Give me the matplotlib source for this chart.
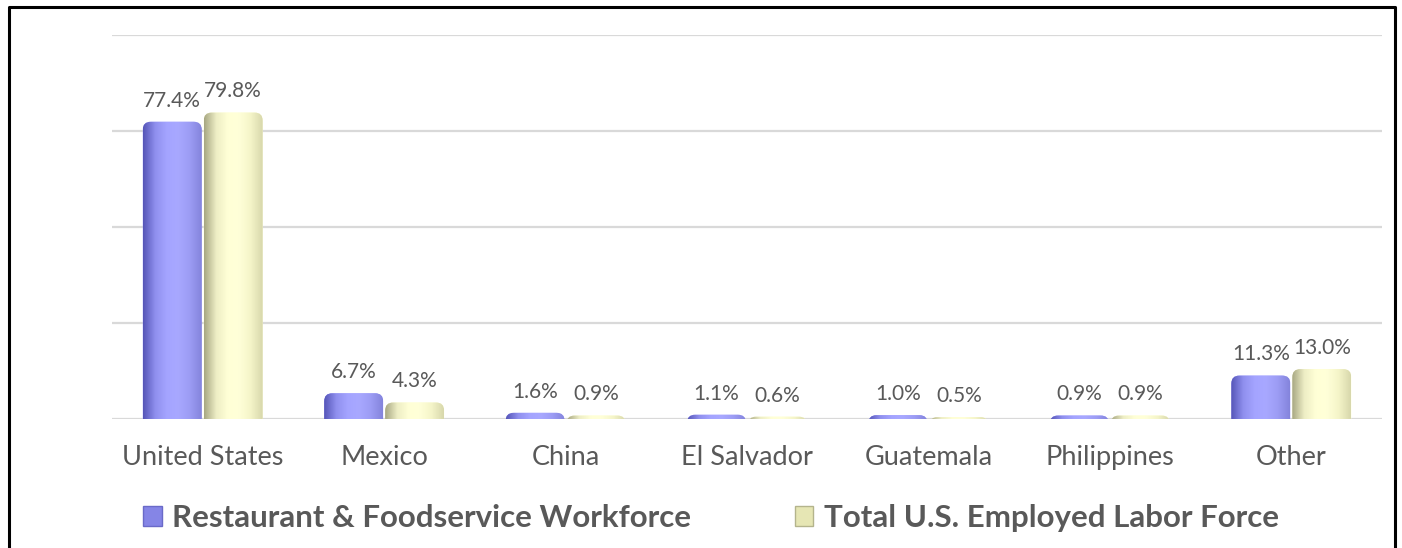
import matplotlib
matplotlib.use("Agg")
import matplotlib.pyplot as plt
import numpy as np
from matplotlib.patches import FancyBboxPatch, Patch
from matplotlib.lines import Line2D
from matplotlib.colors import LinearSegmentedColormap

# data
countries = ["United States", "Mexico", "China", "El Salvador", "Guatemala", "Philippines", "Other"]
restaurant = [77.4, 6.7, 1.6, 1.1, 1.0, 0.9, 11.3]
labor_force = [79.8, 4.3, 0.9, 0.6, 0.5, 0.9, 13.0]
series_names = ["Restaurant & Foodservice Workforce", "Total U.S. Employed Labor Force"]

plt.rcParams["font.family"] = ["Lato", "DejaVu Sans"]
text_color = "#595959"
grid_color = "#d9d9d9"

W, H = 1402, 548
fig = plt.figure(figsize=(W / 100, H / 100), dpi=100)
ax = fig.add_axes([112 / W, 129 / H, 1270 / W, 384 / H])

x = np.arange(len(countries))
bar_w = 0.325
offset = 0.168
ax.set_xlim(-0.5, len(countries) - 0.5)
ax.set_ylim(0, 100)

# gradient shading of the two series (left edge dark, highlight, right slightly dark)
grads = {
    0: ["#5656b8", "#8f8fee", "#a4a4ff", "#a8a8ff", "#9c9cf4", "#8484dc"],
    1: ["#a8a884", "#ededc4", "#ffffd6", "#ffffd8", "#f4f4c8", "#d8d8ac"],
}
cmaps = {k: LinearSegmentedColormap.from_list("g%d" % k, v) for k, v in grads.items()}

px_x = 1270 / len(countries)
px_y = 384 / 100
radius = 8 / px_x
aspect = px_x / px_y
below = -6

for k, (vals, sign) in enumerate([(restaurant, -1), (labor_force, 1)]):
    for xi, v in zip(x, vals):
        left = xi + sign * offset - bar_w / 2
        patch = FancyBboxPatch((left, below), bar_w, v - below,
                               boxstyle="round,pad=0,rounding_size=%f" % radius,
                               mutation_aspect=aspect, linewidth=0,
                               facecolor=grads[k][3], zorder=3)
        ax.add_patch(patch)
        grad = np.linspace(0, 1, 64).reshape(1, -1)
        im = ax.imshow(grad, cmap=cmaps[k], aspect="auto", interpolation="bilinear",
                       extent=(left, left + bar_w, below, v), zorder=3.5)
        im.set_clip_path(patch)
        ax.annotate("%.1f%%" % v, (xi + sign * offset, v), xytext=(0, 8),
                    textcoords="offset points", ha="center", va="bottom",
                    fontsize=15, color=text_color)

ax.set_xlim(-0.5, len(countries) - 0.5)
ax.set_ylim(0, 100)
ax.set_yticks([0, 25, 50, 75, 100])
ax.set_yticklabels([])
ax.grid(axis="y", color=grid_color, linewidth=1.6, zorder=0)
ax.set_axisbelow(True)
ax.set_xticks(x)
ax.set_xticklabels(countries, fontsize=19.5, color=text_color)
ax.tick_params(axis="both", length=0, pad=19)
for s in ax.spines.values():
    s.set_visible(False)

# legend
handles = [Patch(facecolor="#8585e6", edgecolor="#6a6ac8", linewidth=1),
           Patch(facecolor="#e6e6b4", edgecolor="#b4b48c", linewidth=1)]
fig.legend(handles, series_names, loc="center", bbox_to_anchor=(711 / W, 1 - 518 / H),
           ncol=2, frameon=False, handlelength=0.6, handleheight=0.6, handletextpad=0.35,
           columnspacing=3.3, prop={"size": 22.5, "weight": "bold"}, labelcolor=text_color)

# black frame round the chart
fig.add_artist(Line2D([9 / W, 9 / W, 1395 / W, 1395 / W], [0, 1 - 7 / H, 1 - 7 / H, 0],
                      transform=fig.transFigure, color="black", linewidth=2.2))

fig.savefig("out.png", dpi=100)
